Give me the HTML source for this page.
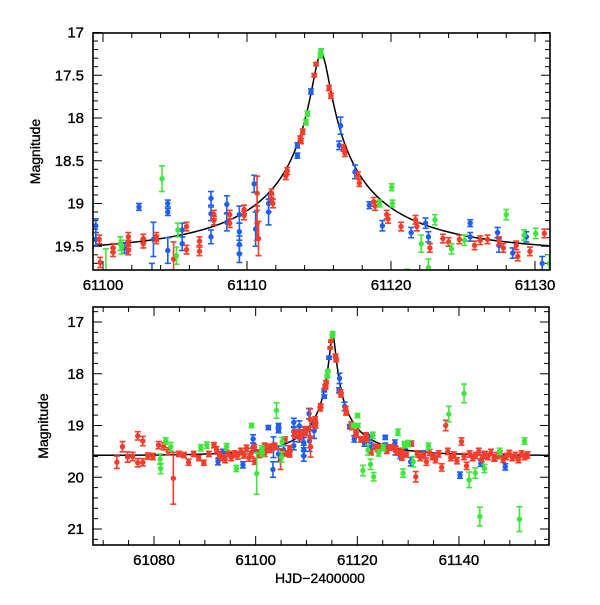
<!DOCTYPE html>
<html><head><meta charset="utf-8"><style>
html,body{margin:0;padding:0;background:#fff}
svg text{font-family:"Liberation Sans",sans-serif;fill:#000;stroke:#000;stroke-width:0.35px}
</style></head><body>
<svg id="chart" width="600" height="600" xmlns="http://www.w3.org/2000/svg">
<defs>
<clipPath id="clipTop"><rect x="93" y="33" width="457" height="237"/></clipPath>
<clipPath id="clipBot"><rect x="93" y="307" width="456" height="238"/></clipPath>
</defs>
<g id="top"></g>
<g id="bot"></g>
<text x="320" y="583" text-anchor="middle" font-size="14">HJD−2400000</text>
</svg>
<script>
const redT=[61072.7,61073.8,61074.8,61075.8,61076.8,61076.8,61077.8,61077.8,61078.8,61079.8,61080.9,61081.9,61082.8,61083.8,61084.9,61085.9,61086.8,61087.8,61088.8,61089.8,61090.8,61091.8,61092.3,61092.8,61093.4,61094.0,61094.6,61095.2,61095.8,61096.5,61097.1,61097.7,61098.2,61098.7,61099.2,
61099.74,61099.8,61100.7,61100.7,61101.76,61101.76,61101.76,61102.8,61102.8,61103.7,61103.7,61104.9,61105.8,61105.8,61106.7,61106.7,61107.7,61107.7,61108.8,61108.8,61109.8,61109.8,61110.7,61110.7,61110.8,61111.7,61111.7,61111.8,
61112.7,61112.8,61113.7,61113.75,61113.87,61114.67,61114.8,61115.7,61115.83,61116.7,61116.8,61117.7,61117.8,61118.8,61118.9,61119.7,61119.8,61120.7,61121.7,61121.8,61122.7,61123.6,61124.0,61124.75,61125.8,61126.2,61126.7,61127.5,61127.8,61128.7,61128.8,61129.65,61130.65,
61131.5,61131.8,61132.4,61133.0,61133.6,61134.2,61134.8,61135.4,61136.0,61136.6,61137.4,61137.8,61138.4,61139.0,61139.6,61140.5,61141.0,61141.5,61142.1,61142.7,61143.3,61143.9,61144.5,61145.1,61145.7,61146.3,61146.9,61147.5,61148.1,61148.7,61149.3,61149.9,61150.5,61151.1,61151.7,61152.3,61152.9,61153.5];
const redMag=[19.71,19.41,19.61,19.60,19.20,19.72,19.30,19.71,19.59,19.60,19.38,19.40,19.50,20.02,19.55,19.57,19.71,19.55,19.63,19.72,19.55,19.38,19.47,19.56,19.62,19.66,19.55,19.62,19.55,19.58,19.50,19.57,19.44,19.62,19.52,
19.42,19.69,19.52,19.57,19.39,19.48,19.55,19.41,19.47,19.39,19.42,19.65,19.27,19.54,19.44,19.56,19.13,19.20,19.13,19.23,19.07,19.14,18.88,19.23,19.41,18.88,18.95,19.00,
18.68,18.62,18.24,18.27,18.16,17.50,17.37,17.65,17.74,18.35,18.41,18.67,18.76,18.98,19.03,19.13,19.18,19.27,19.19,19.27,19.52,19.41,19.45,19.42,19.49,19.43,19.42,19.44,19.52,19.49,19.62,19.56,19.35,
19.99,19.55,19.62,19.58,19.70,19.52,19.60,19.66,19.55,19.81,19.00,19.50,19.62,19.57,19.68,19.31,19.60,19.78,19.55,19.62,19.58,19.50,19.64,19.56,19.60,19.52,19.63,19.58,19.55,19.65,19.60,19.54,19.62,19.58,19.66,19.55,19.60,19.57];
const redErr=[0.12,0.10,0.10,0.08,0.08,0.08,0.09,0.07,0.06,0.06,0.07,0.07,0.07,0.50,0.05,0.05,0.06,0.05,0.05,0.05,0.05,0.05,0.06,0.06,0.06,0.06,0.05,0.06,0.06,0.07,0.06,0.06,0.06,0.07,0.08,
0.05,0.06,0.05,0.05,0.05,0.05,0.05,0.05,0.05,0.05,0.05,0.20,0.05,0.05,0.05,0.05,0.05,0.05,0.05,0.05,0.05,0.05,0.20,0.20,0.20,0.05,0.05,0.05,
0.04,0.04,0.03,0.03,0.03,0.02,0.02,0.03,0.03,0.04,0.04,0.04,0.04,0.05,0.05,0.05,0.05,0.05,0.05,0.05,0.05,0.05,0.05,0.05,0.05,0.05,0.05,0.05,0.05,0.05,0.05,0.05,0.05,
0.10,0.06,0.06,0.06,0.07,0.06,0.06,0.06,0.06,0.07,0.10,0.06,0.06,0.06,0.06,0.07,0.06,0.07,0.06,0.06,0.06,0.06,0.06,0.06,0.06,0.06,0.06,0.06,0.06,0.06,0.06,0.06,0.06,0.06,0.06,0.06,0.06,0.06];
const blueT=[61092.6,61093.5,61097.5,61099.5,61099.5,61101.5,61102.5,61103.5,61103.4,61104.5,61104.5,61104.5,61105.5,61105.5,61107.5,61107.5,61107.5,61108.6,61108.6,61109.47,61109.47,61109.47,61109.47,61110.5,61110.6,61111.5,61111.5,61113.5,61113.5,61114.44,61116.5,61116.4,61117.5,61118.5,61119.4,61121.4,61122.4,61122.6,61125.5,61125.5,61127.4,61127.5,61128.45,61129.4,61130.5,61133.0,61135.0,61140.2,61144.3,61145.0,61147.0,61149.1];
const blueMag=[19.70,19.52,19.76,19.26,19.42,19.52,19.04,19.42,19.85,19.00,19.10,19.55,19.31,19.47,18.94,19.39,19.12,19.01,19.22,19.13,19.33,19.48,19.59,18.77,19.30,19.00,19.10,18.32,18.44,17.69,18.09,18.32,18.63,19.02,19.26,19.34,19.23,19.39,19.23,19.39,19.34,19.49,19.58,19.39,19.70,19.55,19.60,19.96,19.73,19.58,19.62,19.80];
const blueErr=[0.06,0.06,0.06,0.08,0.08,0.06,0.04,0.20,0.15,0.04,0.04,0.15,0.08,0.08,0.08,0.08,0.08,0.10,0.10,0.10,0.10,0.10,0.10,0.10,0.20,0.10,0.15,0.03,0.03,0.03,0.10,0.05,0.08,0.04,0.06,0.06,0.06,0.06,0.04,0.05,0.06,0.08,0.06,0.06,0.08,0.06,0.06,0.06,0.06,0.06,0.06,0.06];
const greenT=[61081.2,61081.3,61082.3,61083.3,61089.2,61090.4,61094.3,61096.2,61099.2,61100.2,61101.2,61101.3,61104.1,61105.2,61105.1,61114.1,61114.2,61115.14,61115.1,61119.2,61120.05,61120.1,61121.1,61122.1,61122.6,61123.05,61123.2,61124.2,61125.1,61128.0,61129.0,61129.24,61130.05,61131.0,61134.0,61138.0,61141.0,61142.0,61143.2,61144.1,61145.0,61148.0,61151.9,61152.9];
const greenMag=[19.65,19.83,19.30,19.41,19.43,19.38,19.41,19.83,19.00,19.93,19.47,19.51,18.71,19.31,19.61,18.05,17.95,17.22,17.27,19.00,18.81,19.00,19.87,19.47,19.75,19.19,19.99,19.53,19.43,19.13,19.92,19.37,19.35,19.70,19.40,18.78,18.38,20.05,19.92,20.76,19.83,19.50,20.81,19.30];
const greenErr=[0.10,0.10,0.06,0.08,0.06,0.06,0.06,0.06,0.04,0.40,0.08,0.08,0.15,0.08,0.10,0.03,0.03,0.03,0.03,0.04,0.04,0.04,0.10,0.10,0.10,0.06,0.08,0.06,0.06,0.06,0.08,0.06,0.06,0.10,0.06,0.15,0.18,0.15,0.10,0.18,0.08,0.06,0.24,0.06];
const series=[{name:'blue',col:'#1e5ff0',t:blueT,m:blueMag,e:blueErr},{name:'red',col:'#f43d2a',t:redT,m:redMag,e:redErr},{name:'green',col:'#3ee83a',t:greenT,m:greenMag,e:greenErr}];
// model params
const t0=61115.15,tE=14,u0=0.04,fs=0.315,base=19.58;
function model(t){const u=Math.sqrt(u0*u0+((t-t0)/tE)**2);const A=(u*u+2)/(u*Math.sqrt(u*u+4));return base-2.5*Math.log10(fs*A+1-fs);}

const NS='http://www.w3.org/2000/svg';
function mk(tag,at,parent){const e=document.createElementNS(NS,tag);for(const k in at)e.setAttribute(k,at[k]);parent.appendChild(e);return e;}

function panel(g,cfg){
  const X=t=>cfg.x0+(t-cfg.t0)*cfg.sx, Y=m=>cfg.y0+(m-cfg.m0)*cfg.sy;
  const L=cfg.L,R=cfg.R,T=cfg.T,B=cfg.B;
  const tk=mk('g',{stroke:'#000','stroke-width':1},g);
  
  
  for(let t=cfg.xmin;t<=cfg.xmax+1e-6;t+=cfg.xminor){const x=X(t);if(x<L||x>R)continue;const maj=Math.abs(t/cfg.xmajor-Math.round(t/cfg.xmajor))<1e-6;const l=maj?9:5;
    mk('line',{x1:x,x2:x,y1:B,y2:B-l},tk);mk('line',{x1:x,x2:x,y1:T,y2:T+l},tk);
    if(maj){const tx=mk('text',{x:x,y:B+20,'text-anchor':'middle','font-size':15},g);tx.textContent=t;
      
      }}
  for(let i=0;;i++){const m=cfg.mmin+i*cfg.yminor;if(m>cfg.mmax+1e-6)break;const y=Y(m);if(y<T-0.5||y>B)continue;const maj=Math.abs(m/cfg.ymajor-Math.round(m/cfg.ymajor))<1e-6;const l=maj?9:5;
    mk('line',{x1:L,x2:L+l,y1:y,y2:y},tk);mk('line',{x1:R,x2:R-l,y1:y,y2:y},tk);
    if(maj){const tx=mk('text',{x:L-9,y:y+5,'text-anchor':'end','font-size':15},g);tx.textContent=+m.toFixed(1);
      
      }}
  const yt=mk('text',{x:0,y:0,transform:`translate(${cfg.ylx},${(T+B)/2}) rotate(-90)`,'text-anchor':'middle','font-size':14},g);yt.textContent='Magnitude';
  
  
  const plot=mk('g',{'clip-path':`url(#${cfg.clip})`},g);
  let d='';for(let px=L;px<=R;px+=0.5){const t=cfg.t0+(px-cfg.x0)/cfg.sx;d+=(d?'L':'M')+px.toFixed(2)+','+Y(model(t)).toFixed(2);}
  const c=mk('path',{d:d,fill:'none',stroke:'#000','stroke-width':1.5},plot);
  
  
  for(const s of series){
    const sg=mk('g',{stroke:s.col,fill:s.col,'stroke-width':1.6},plot);
    
    
    for(let i=0;i<s.t.length;i++){const x=X(s.t[i]),y=Y(s.m[i]),e=s.e[i]*Math.abs(cfg.sy);
      const p=mk('g',{},sg);
      
      
      mk('line',{x1:x,x2:x,y1:y-e,y2:y+e},p);
      mk('line',{x1:x-3,x2:x+3,y1:y-e,y2:y-e},p);
      mk('line',{x1:x-3,x2:x+3,y1:y+e,y2:y+e},p);
      mk('circle',{cx:x,cy:y,r:2.7,stroke:'none'},p);}
  }
  const fr=mk('rect',{x:L,y:T,width:R-L,height:B-T,fill:'none',stroke:'#000','stroke-width':1.6},g);
  
  
}
panel(document.getElementById('top'),{x0:103,t0:61100,sx:14.4,y0:32.5,m0:17,sy:85.5,L:93,R:550,T:33,B:270,
  xmin:61100,xmax:61130,xminor:2,xmajor:10,mmin:17,mmax:19.8,yminor:0.1,ymajor:0.5,ylx:40,clip:'clipTop'});
panel(document.getElementById('bot'),{x0:154,t0:61080,sx:5.083,y0:322,m0:17,sy:51.75,L:93,R:549,T:307,B:545,
  xmin:61070,xmax:61155,xminor:5,xmajor:20,mmin:16.8,mmax:21.4,yminor:0.2,ymajor:1,ylx:48,clip:'clipBot'});
</script>
</body></html>
